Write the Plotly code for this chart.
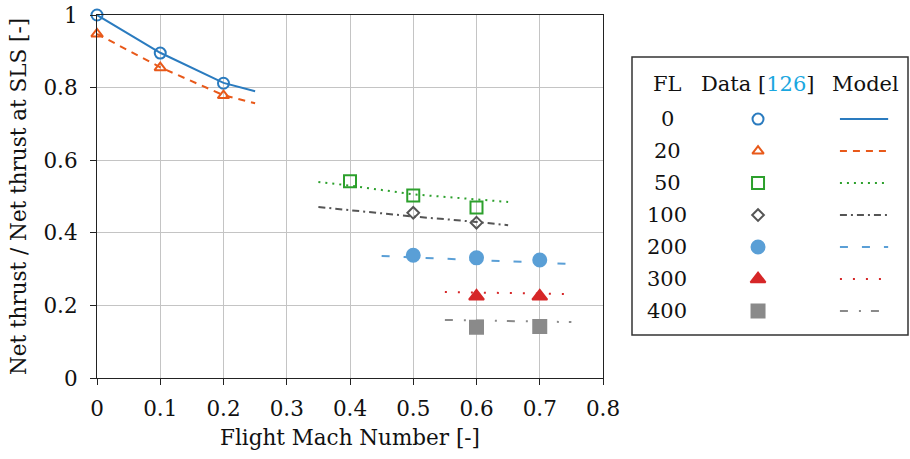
import plotly.graph_objects as go

# Flight levels and their styles
flight_levels = ["0", "20", "50", "100", "200", "300", "400"]
colors = ["#2a7bbf", "#e8591a", "#2ca02c", "#555555", "#5a9fd6", "#d62728", "#8a8a8a"]
symbols = ["circle-open", "triangle-up-open", "square-open", "diamond-open",
           "circle", "triangle-up", "square"]
marker_sizes = [11, 10, 12, 9, 13, 13, 13]
dashes = ["solid", "7px,6px", "2px,5px", "7px,4px,2px,4px",
          "8px,14px", "2px,11px", "8px,11px,2px,10px"]

# Measured data (net thrust ratio vs. flight Mach number)
data_mach = [
    [0.0, 0.1, 0.2],
    [0.0, 0.1, 0.2],
    [0.4, 0.5, 0.6],
    [0.5, 0.6],
    [0.5, 0.6, 0.7],
    [0.6, 0.7],
    [0.6, 0.7],
]
data_thrust = [
    [1.0, 0.895, 0.812],
    [0.948, 0.855, 0.778],
    [0.542, 0.503, 0.470],
    [0.455, 0.428],
    [0.338, 0.331, 0.325],
    [0.225, 0.225],
    [0.140, 0.142],
]

# Model predictions
model_mach = [
    [0.0, 0.1, 0.2, 0.25],
    [0.0, 0.1, 0.2, 0.25],
    [0.35, 0.4, 0.5, 0.6, 0.65],
    [0.35, 0.5, 0.6, 0.65],
    [0.45, 0.5, 0.6, 0.7, 0.75],
    [0.55, 0.6, 0.7, 0.75],
    [0.55, 0.6, 0.7, 0.75],
]
model_thrust = [
    [1.0, 0.896, 0.813, 0.790],
    [0.948, 0.856, 0.779, 0.757],
    [0.540, 0.530, 0.506, 0.492, 0.485],
    [0.471, 0.445, 0.430, 0.421],
    [0.336, 0.333, 0.325, 0.318, 0.314],
    [0.237, 0.235, 0.233, 0.231],
    [0.160, 0.158, 0.156, 0.154],
]

x_ticks = [0, 0.1, 0.2, 0.3, 0.4, 0.5, 0.6, 0.7, 0.8]
x_tick_text = ["0", "0.1", "0.2", "0.3", "0.4", "0.5", "0.6", "0.7", "0.8"]
y_ticks = [0, 0.2, 0.4, 0.6, 0.8, 1.0]
y_tick_text = ["0", "0.2", "0.4", "0.6", "0.8", "1"]

FONT = "DejaVu Serif"
FS = 21.5
W, H = 910, 459

fig = go.Figure()

for i, fl in enumerate(flight_levels):
    fig.add_trace(go.Scatter(
        x=model_mach[i], y=model_thrust[i], mode="lines",
        line=dict(color=colors[i], width=2, dash=dashes[i]),
        showlegend=False, hoverinfo="skip", cliponaxis=False))
for i, fl in enumerate(flight_levels):
    fig.add_trace(go.Scatter(
        x=data_mach[i], y=data_thrust[i], mode="markers",
        marker=dict(symbol=symbols[i], size=marker_sizes[i], color=colors[i],
                    line=dict(color=colors[i], width=2)),
        showlegend=False, name=f"FL {fl}", cliponaxis=False))

# Tabular key drawn on its own hidden axes: rows 0..6, columns 0=FL, 1=data, 2=model
n = len(flight_levels)
for i in range(n):
    fig.add_trace(go.Scatter(
        x=[1], y=[i], mode="markers", xaxis="x2", yaxis="y2",
        marker=dict(symbol=symbols[i], size=marker_sizes[i], color=colors[i],
                    line=dict(color=colors[i], width=2)),
        showlegend=False, hoverinfo="skip"))
    fig.add_trace(go.Scatter(
        x=[1.90, 2.43], y=[i, i], mode="lines", xaxis="x2", yaxis="y2",
        line=dict(color=colors[i], width=2, dash=dashes[i]),
        showlegend=False, hoverinfo="skip"))

key_font = dict(family=FONT, size=21, color="#111")
annotations = []
for i, fl in enumerate(flight_levels):
    annotations.append(dict(x=0, y=i, xref="x2", yref="y2", text=fl,
                            showarrow=False, font=key_font))
header = [(0, "FL"), (0.99, "Data [<span style='color:#1aa7e0'>126</span>]"), (2.18, "Model")]
for hx, ht in header:
    annotations.append(dict(x=hx, y=-1.09, xref="x2", yref="y2", text=ht, showarrow=False,
                            font=key_font))

axis_common = dict(showline=True, linecolor="#222", linewidth=1.2, mirror=True,
                   showgrid=True, gridcolor="#c4c4c4", gridwidth=1,
                   ticks="outside", ticklen=6, tickcolor="#222", zeroline=False,
                   automargin=False,
                   tickfont=dict(family=FONT, size=FS, color="#111"))

fig.update_layout(
    width=W, height=H,
    margin=dict(l=0, r=0, t=0, b=0, autoexpand=False),
    paper_bgcolor="white", plot_bgcolor="white",
    xaxis=dict(domain=[97 / W, 603 / W], range=[0, 0.8], tickvals=x_ticks,
               ticktext=x_tick_text, ticklabelstandoff=5,
               title=dict(text="Flight Mach Number [-]", standoff=10,
                          font=dict(family=FONT, size=FS, color="#111")),
               **axis_common),
    yaxis=dict(domain=[(H - 378) / H, (H - 15) / H], range=[0, 1], tickvals=y_ticks,
               ticktext=y_tick_text, ticklabelstandoff=8,
               title=dict(text="Net thrust / Net thrust at SLS [-]", standoff=10,
                          font=dict(family=FONT, size=FS, color="#111")),
               **axis_common),
    xaxis2=dict(domain=[632 / W, 908 / W], range=[-0.385, 2.648], visible=False,
                fixedrange=True),
    yaxis2=dict(domain=[(H - 335) / H, (H - 57) / H], range=[6.75, -1.94],
                visible=False, fixedrange=True),
    annotations=annotations,
    shapes=[dict(type="rect", xref="paper", yref="paper",
                 x0=632 / W, x1=908 / W, y0=(H - 335) / H, y1=(H - 57) / H,
                 line=dict(color="#333", width=1.5), fillcolor="rgba(0,0,0,0)")],
)

fig.write_html("out.html")
